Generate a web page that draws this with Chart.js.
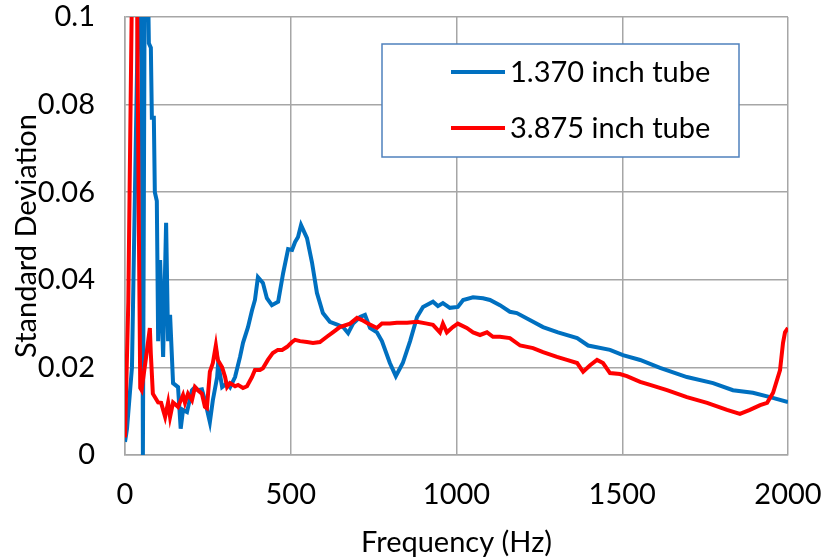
<!DOCTYPE html>
<html>
<head>
<meta charset="utf-8">
<script src="https://cdn.jsdelivr.net/npm/chart.js@4"></script>
<style>
  html, body { margin: 0; padding: 0; background: #fff; }
  #wrap { width: 822px; height: 560px; }
</style>
</head>
<body>
<div id="wrap"><canvas id="sdChart"></canvas></div>
<script>
/* ---- Data ---- */
const xTicks = [0, 500, 1000, 1500, 2000];
const yTicks = [0, 0.02, 0.04, 0.06, 0.08, 0.1];

const seriesNames = ['1.370 inch tube', '3.875 inch tube'];

// 1.370 inch tube
const smallFreq = [0, 6, 21, 30, 39, 45, 51, 54, 57, 60, 69, 72, 78, 81, 87, 90, 96, 100, 106, 115,
  124, 130, 136, 145, 160, 168, 175, 187, 202, 211, 220, 232, 241, 256, 265, 278, 281, 293, 308, 317,
  332, 347, 356, 371, 383, 392, 401, 416, 428, 443, 462, 477, 492, 504, 513, 522, 531, 549, 564, 579,
  597, 618, 642, 658, 673, 688, 709, 724, 739, 760, 775, 799, 817, 838, 860, 881, 899, 929, 944, 959,
  980, 1004, 1020, 1050, 1080, 1101, 1131, 1161, 1182, 1231, 1261, 1306, 1364, 1397, 1463, 1502, 1554,
  1614, 1695, 1774, 1834, 1894, 1946, 2000];
const smallSD = [0.003, 0.006, 0.02, 0.06, 0.1, 0.13, 0.08, 0.0, 0.06, 0.12, 0.11, 0.094, 0.093, 0.077, 0.077, 0.06, 0.058, 0.026, 0.0445, 0.0224,
  0.053, 0.026, 0.032, 0.0164, 0.0155, 0.006, 0.0103, 0.0098, 0.0148, 0.0155, 0.0148, 0.015, 0.0125, 0.0075, 0.0125, 0.0178, 0.021, 0.0155, 0.0164, 0.0155,
  0.0178, 0.0224, 0.0256, 0.0292, 0.033, 0.0354, 0.0406, 0.0393, 0.0358, 0.0342, 0.035, 0.0415, 0.047, 0.0468, 0.0486, 0.0498, 0.0525, 0.0495, 0.044, 0.037,
  0.0324, 0.0304, 0.0297, 0.0292, 0.0278, 0.030, 0.0315, 0.032, 0.029, 0.028, 0.026, 0.021, 0.018, 0.021, 0.026, 0.0315, 0.0338, 0.035, 0.034, 0.0347,
  0.0336, 0.0338, 0.0354, 0.036, 0.0358, 0.0354, 0.0342, 0.0327, 0.0324, 0.0304, 0.0292, 0.028, 0.0267, 0.025, 0.024, 0.0228, 0.0217,
  0.0199, 0.0178, 0.0164, 0.0148, 0.0142, 0.0132, 0.0121];

// 3.875 inch tube
const largeFreq = [0, 10, 20, 25, 35, 42, 46, 50, 63, 75, 78, 84, 100, 109, 121, 130, 136, 145, 160, 175,
  181, 190, 202, 211, 220, 232, 241, 247, 256, 265, 274, 280, 293, 302, 308, 317, 332, 341, 356, 368,
  383, 392, 407, 416, 431, 446, 461, 474, 489, 504, 513, 528, 549, 567, 588, 609, 627, 648, 679, 700,
  715, 733, 760, 775, 799, 820, 851, 881, 911, 929, 950, 959, 971, 989, 1004, 1031, 1050, 1071, 1092, 1110,
  1131, 1161, 1192, 1231, 1261, 1303, 1333, 1364, 1382, 1403, 1424, 1442, 1463, 1493, 1514, 1554, 1584, 1635,
  1695, 1756, 1816, 1855, 1885, 1916, 1937, 1955, 1976, 1985, 1991, 2000];
const largeSD = [0.004, 0.035, 0.1, 0.13, 0.12, 0.05, 0.0153, 0.0148, 0.022, 0.029, 0.023, 0.014, 0.012, 0.0119, 0.0087, 0.012, 0.0087, 0.012, 0.011, 0.0137,
  0.0119, 0.014, 0.0125, 0.0155, 0.0148, 0.014, 0.011, 0.0107, 0.019, 0.021, 0.025, 0.0217, 0.02, 0.0178, 0.0155, 0.0164, 0.0157, 0.016, 0.0153, 0.0157,
  0.0178, 0.0194, 0.0194, 0.0198, 0.0217, 0.0233, 0.024, 0.024, 0.0247, 0.0258, 0.0263, 0.026, 0.0258, 0.0256, 0.0258, 0.027, 0.028, 0.0292, 0.030, 0.0313,
  0.0308, 0.030, 0.029, 0.030, 0.030, 0.0302, 0.0302, 0.0304, 0.030, 0.0297, 0.028, 0.030, 0.028, 0.0292, 0.030, 0.029, 0.028, 0.0274, 0.028, 0.027,
  0.027, 0.0267, 0.025, 0.0244, 0.0235, 0.0224, 0.0217, 0.021, 0.019, 0.0205, 0.0217, 0.021, 0.0187, 0.0185, 0.018, 0.0167, 0.016, 0.0148,
  0.0132, 0.0119, 0.0103, 0.0094, 0.0103, 0.0114, 0.0119, 0.0142, 0.0194, 0.0256, 0.028, 0.029];

const toPoints = (xs, ys) => xs.map((x, i) => ({ x: x, y: ys[i] }));

/* ---- Styling ---- */
const FONT = 'Lato';
const FSIZE = 29;
const gridGray = '#a6a6a6';
const seriesColors = ['#0070c0', '#ff0000'];

/* ---- Legend box drawn inside the plot ---- */
const boxLegend = {
  id: 'boxLegend',
  afterDraw(chart) {
    const ctx = chart.ctx;
    ctx.save();
    ctx.fillStyle = '#fff';
    ctx.fillRect(382, 44, 357, 113);
    ctx.strokeStyle = '#4f81bd';
    ctx.lineWidth = 1.5;
    ctx.strokeRect(382, 44, 357, 113);
    const rows = [72, 128];
    seriesNames.forEach((name, i) => {
      ctx.strokeStyle = seriesColors[i];
      ctx.lineWidth = 4;
      ctx.beginPath();
      ctx.moveTo(451, rows[i]);
      ctx.lineTo(505, rows[i]);
      ctx.stroke();
      ctx.fillStyle = '#000';
      ctx.font = FSIZE + 'px ' + FONT;
      ctx.textBaseline = 'middle';
      ctx.textAlign = 'left';
      ctx.fillText(name, 510, rows[i] + 1);
    });
    ctx.restore();
  }
};

new Chart(document.getElementById('sdChart'), {
  type: 'line',
  data: {
    datasets: [
      {
        label: seriesNames[0],
        data: toPoints(smallFreq, smallSD),
        borderColor: seriesColors[0],
        borderWidth: 4,
        pointRadius: 0,
        tension: 0,
        order: 1,
      },
      {
        label: seriesNames[1],
        data: toPoints(largeFreq, largeSD),
        borderColor: seriesColors[1],
        borderWidth: 4,
        pointRadius: 0,
        tension: 0,
        order: 0,
      }
    ]
  },
  options: {
    responsive: true,
    maintainAspectRatio: false,
    animation: false,
    layout: { padding: { top: 17, right: 34, left: 0, bottom: 0 } },
    plugins: { legend: { display: false }, tooltip: { enabled: false } },
    scales: {
      x: {
        type: 'linear',
        min: 0,
        max: 2000,
        afterBuildTicks: s => { s.ticks = xTicks.map(v => ({ value: v })); },
        afterFit: s => { s.height = 105; s.paddingLeft = 0; s.paddingRight = 0; },
        grid: { color: gridGray, lineWidth: 1.5, drawTicks: false },
        border: { color: gridGray, width: 1.5 },
        ticks: { color: '#000', padding: 22, font: { family: FONT, size: FSIZE }, callback: v => String(v) },
        title: { display: true, text: 'Frequency (Hz)', color: '#000', padding: { bottom: 0 }, font: { family: FONT, size: FSIZE } }
      },
      y: {
        min: 0,
        max: 0.1,
        afterBuildTicks: s => { s.ticks = yTicks.map(v => ({ value: v })); },
        afterFit: s => { s.width = 125; s.paddingTop = 0; s.paddingBottom = 0; },
        grid: { color: gridGray, lineWidth: 1.5, drawTicks: false },
        border: { color: gridGray, width: 1.5 },
        ticks: { color: '#000', padding: 30, font: { family: FONT, size: FSIZE }, callback: v => String(+v.toFixed(2)) },
        title: { display: true, text: 'Standard Deviation', color: '#000', padding: { top: 9 }, font: { family: FONT, size: FSIZE } }
      }
    }
  },
  plugins: [boxLegend]
});
</script>
</body>
</html>
